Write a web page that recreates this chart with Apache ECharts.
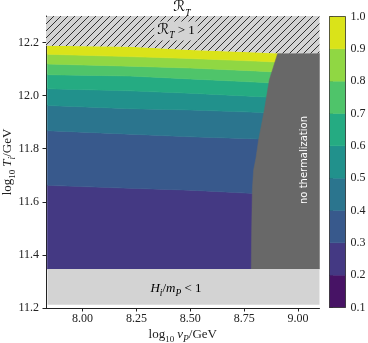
<!DOCTYPE html>
<html>
<head>
<meta charset="utf-8">
<script src="https://cdn.jsdelivr.net/npm/echarts@6/dist/echarts.min.js"></script>
<style>
  html, body { margin: 0; padding: 0; background: #fff; }
  #chart { width: 368px; height: 343px; }
</style>
</head>
<body>
<div id="chart"></div>
<script>
// ---- values ----
var vTicks = [8.00, 8.25, 8.50, 8.75, 9.00];
var tTicks = [11.2, 11.4, 11.6, 11.8, 12.0, 12.2];
var levels = [0.1, 0.2, 0.3, 0.4, 0.5, 0.6, 0.7, 0.8, 0.9, 1.0];
var levelColors = ['#471365', '#443983', '#38598c', '#2b758e', '#21918c',
                   '#25ab82', '#4fc46a', '#90d743', '#dae319'];

// log10 vP where the contour lines were read
var vNodes = [7.836, 8.22, 8.50, 8.78, 8.92];
// log10 Ti of each contour line at vNodes
var contour03 = [11.662, 11.651, 11.644, 11.632, 11.628];
var contour04 = [11.868, 11.855, 11.845, 11.838, 11.834];
var contour05 = [11.963, 11.951, 11.946, 11.938, 11.933];
var contour06 = [12.026, 12.018, 12.009, 11.998, 11.992];
var contour07 = [12.079, 12.074, 12.063, 12.052, 12.046];
var contour08 = [12.119, 12.111, 12.104, 12.094, 12.088];
var contour09 = [12.156, 12.147, 12.140, 12.131, 12.126];
var contour10 = [12.188, 12.184, 12.172, 12.163, 12.158];

// H_i/m_P = 1 line and lower edge of the shaded strip
var hLine = 11.347;
var hFloor = 11.212;
var hFloorV = [7.837, 9.10];

// R_T = 1 boundary (hatched above)
var rTv = [7.83, 8.22, 8.50, 8.78, 8.906, 9.10];
var rTt = [12.188, 12.184, 12.172, 12.163, 12.160, 12.160];

// edge of the "no thermalization" region, top to bottom
var noThermV = [8.906, 8.867, 8.844, 8.817, 8.805, 8.794, 8.788, 8.785, 8.783];
var noThermT = [12.160, 12.059, 11.946, 11.833, 11.765, 11.720, 11.644, 11.494, 11.347];

var xMin = 7.83, xMax = 9.10, yMin = 11.2, yMax = 12.3;

var flatH = vNodes.map(function () { return hLine; });
var bandEdges = [flatH, contour03, contour04, contour05, contour06,
                 contour07, contour08, contour09, contour10];

function makeHatch() {
  var c = document.createElement('canvas');
  c.width = 7; c.height = 7;
  var g = c.getContext('2d');
  g.fillStyle = '#d3d3d3';
  g.fillRect(0, 0, 7, 7);
  g.strokeStyle = '#1e1e1e';
  g.lineWidth = 0.9;
  g.beginPath(); g.moveTo(-1, 8); g.lineTo(8, -1); g.stroke();
  g.beginPath(); g.moveTo(-1, 1); g.lineTo(1, -1); g.stroke();
  g.beginPath(); g.moveTo(6, 8); g.lineTo(8, 6); g.stroke();
  return c;
}
var hatch = makeHatch();

var serif = 'Liberation Serif';
var mathRich = {
  n: { fontFamily: serif, fontSize: 13, color: '#222', padding: [0, 0, 3, 0], verticalAlign: 'bottom' },
  i: { fontFamily: serif, fontStyle: 'italic', fontSize: 13, color: '#222', padding: [0, 0, 3, 0], verticalAlign: 'bottom' },
  s: { fontFamily: serif, fontSize: 9, color: '#222', verticalAlign: 'bottom' },
  si: { fontFamily: serif, fontStyle: 'italic', fontSize: 9.5, color: '#222', verticalAlign: 'bottom' },
  r: { fontFamily: 'DejaVu Sans', fontSize: 15, color: '#222', padding: [0, 0, 3, 0], verticalAlign: 'bottom' }
};

var chart = echarts.init(document.getElementById('chart'), null, { renderer: 'canvas' });

chart.setOption({
  animation: false,
  backgroundColor: '#fff',
  textStyle: { fontFamily: serif },
  grid: [
    { left: 46, top: 16, right: 48.5, bottom: 35, outerBoundsMode: 'none', containLabel: false },
    { left: 329.5, top: 16.5, width: 16, bottom: 35.5, outerBoundsMode: 'none', containLabel: false }
  ],
  xAxis: [
    {
      type: 'value', gridIndex: 0, min: xMin, max: xMax,
      name: '{n|log}{s|10} {i|v}{si|P}{n|/GeV}',
      nameLocation: 'middle', nameGap: 20, nameMoveOverlap: false,
      nameTextStyle: { rich: mathRich },
      axisLine: { show: true, onZero: false, lineStyle: { color: '#222', width: 1 } },
      axisTick: { show: true, length: 3.5, lineStyle: { color: '#222' }, customValues: vTicks },
      axisLabel: { customValues: vTicks, margin: 5, fontSize: 12, color: '#222', fontFamily: serif,
        formatter: function (v) { return v.toFixed(2); } },
      splitLine: { show: false }
    },
    { type: 'value', gridIndex: 1, min: 0, max: 1, show: false }
  ],
  yAxis: [
    {
      type: 'value', gridIndex: 0, min: yMin, max: yMax,
      name: '{n|log}{s|10} {i|T}{si|i}{n|/GeV}',
      nameLocation: 'middle', nameGap: 29, nameRotate: 90, nameMoveOverlap: false,
      nameTextStyle: { rich: mathRich },
      axisLine: { show: true, onZero: false, lineStyle: { color: '#222', width: 1 } },
      axisTick: { show: true, length: 3.5, lineStyle: { color: '#222' }, customValues: tTicks },
      axisLabel: { customValues: tTicks, margin: 7, fontSize: 12, color: '#222', fontFamily: serif,
        formatter: function (v) { return v.toFixed(1); } },
      splitLine: { show: false }
    },
    {
      type: 'value', gridIndex: 1, min: 0.1, max: 1.0, position: 'right',
      axisLine: { show: false },
      axisTick: { show: true, length: 3.5, lineStyle: { color: '#222' }, customValues: levels },
      axisLabel: { customValues: levels, margin: 5, fontSize: 12, color: '#222', fontFamily: serif,
        formatter: function (v) { return v.toFixed(1); } },
      splitLine: { show: false }
    }
  ],
  series: [
    {
      // filled contour bands
      type: 'custom', xAxisIndex: 0, yAxisIndex: 0, z: 2,
      data: bandEdges.slice(1).map(function (b, i) { return [vNodes[0], b[0], i]; }),
      renderItem: function (params, api) {
        var i = params.dataIndex;
        var lo = bandEdges[i], hi = bandEdges[i + 1];
        var pts = [], k;
        for (k = 0; k < vNodes.length; k++) pts.push(api.coord([vNodes[k], hi[k]]));
        for (k = vNodes.length - 1; k >= 0; k--) pts.push(api.coord([vNodes[k], lo[k]]));
        var col = levelColors[i + 1];
        return { type: 'polygon', shape: { points: pts }, style: { fill: col, stroke: col, lineWidth: 0.6 } };
      }
    },
    {
      // no thermalization region
      type: 'custom', xAxisIndex: 0, yAxisIndex: 0, z: 3,
      data: [[noThermV[0], noThermT[0]]],
      renderItem: function (params, api) {
        var pts = [];
        for (var k = 0; k < noThermV.length; k++) pts.push(api.coord([noThermV[k], noThermT[k]]));
        pts.push(api.coord([xMax, hLine]));
        pts.push(api.coord([xMax, noThermT[0]]));
        return { type: 'polygon', shape: { points: pts, smooth: 0 }, style: { fill: '#686868', stroke: '#686868', lineWidth: 0.5 } };
      }
    },
    {
      // H_i/m_P < 1 strip
      type: 'custom', xAxisIndex: 0, yAxisIndex: 0, z: 3,
      data: [[hFloorV[0], hFloor]],
      renderItem: function (params, api) {
        var a = api.coord([hFloorV[0], hLine]);
        var b = api.coord([hFloorV[1], hFloor]);
        return { type: 'rect', shape: { x: a[0], y: a[1], width: b[0] - a[0], height: b[1] - a[1] }, style: { fill: '#d3d3d3' } };
      }
    },
    {
      // R_T > 1 hatched region
      type: 'custom', xAxisIndex: 0, yAxisIndex: 0, z: 3,
      data: [[rTv[0], rTt[0]]],
      renderItem: function (params, api) {
        var pts = [];
        for (var k = 0; k < rTv.length; k++) pts.push(api.coord([rTv[k], rTt[k]]));
        pts.push(api.coord([xMax, yMax]));
        pts.push(api.coord([xMin, yMax]));
        return { type: 'polygon', shape: { points: pts }, style: { fill: { image: hatch, repeat: 'repeat' } } };
      }
    },
    {
      // colour bar
      type: 'custom', xAxisIndex: 1, yAxisIndex: 1, z: 2,
      data: levelColors.map(function (c, i) { return [0, levels[i]]; }),
      renderItem: function (params, api) {
        var i = params.dataIndex;
        var a = api.coord([0, levels[i + 1]]);
        var b = api.coord([1, levels[i]]);
        return { type: 'rect', shape: { x: a[0], y: a[1], width: b[0] - a[0], height: b[1] - a[1] },
          style: { fill: levelColors[i], stroke: levelColors[i], lineWidth: 0.5 } };
      }
    },
    {
      type: 'custom', xAxisIndex: 1, yAxisIndex: 1, z: 4,
      data: [[0, 0.1]],
      renderItem: function (params, api) {
        var a = api.coord([0, 1.0]);
        var b = api.coord([1, 0.1]);
        return { type: 'rect', shape: { x: a[0], y: a[1], width: b[0] - a[0], height: b[1] - a[1] },
          style: { fill: 'none', stroke: '#333', lineWidth: 0.8 } };
      }
    }
  ],
  graphic: [
    {
      type: 'text', x: 182, y: 9, z: 10,
      style: { text: '{r|ℛ}{si|T}', rich: mathRich, align: 'center', verticalAlign: 'middle' }
    },
    {
      type: 'text', x: 176, y: 31, z: 10,
      style: { text: '{r|ℛ}{si|T}{n| > 1}', rich: mathRich, align: 'center', verticalAlign: 'middle',
        backgroundColor: '#d3d3d3', padding: [1, 3, 0, 3] }
    },
    {
      type: 'text', x: 176, y: 290, z: 10,
      style: { text: '{i|H}{si|i}{n|/}{i|m}{si|P}{n| < 1}', rich: mathRich, align: 'center', verticalAlign: 'middle' }
    },
    {
      type: 'text', x: 304, y: 160, z: 10, rotation: Math.PI / 2,
      style: { text: 'no thermalization', fill: '#fff', font: '10px "DejaVu Sans"', align: 'center', verticalAlign: 'middle' }
    }
  ]
});
</script>
</body>
</html>
